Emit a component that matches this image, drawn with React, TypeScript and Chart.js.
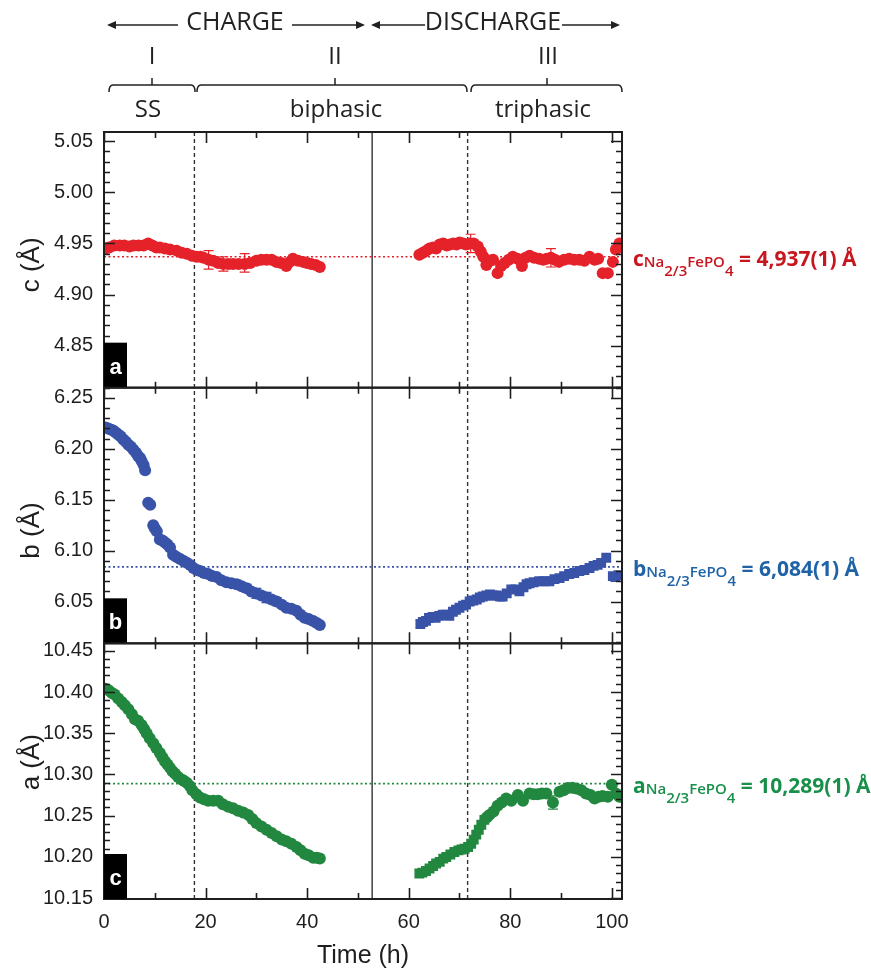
import React, { useEffect, useRef } from 'react';
import { Chart, registerables } from 'chart.js';

Chart.register(...registerables);

// ---------------- data ----------------
const timeTicks = [0, 20, 40, 60, 80, 100];
const cTicks = [4.85, 4.9, 4.95, 5.0, 5.05];
const bTicks = [6.05, 6.1, 6.15, 6.2, 6.25];
const aTicks = [10.15, 10.2, 10.25, 10.3, 10.35, 10.4, 10.45];

const boundaryTimes = [17.8, 71.6]; // dashed boundaries between regimes
const reversalTime = 52.8; // charge -> discharge
const refC = 4.937;
const refB = 6.084;
const refA = 10.289;

// c parameter (top panel)
const cT1 = [0.3, 1.0, 2.0, 3.1, 4.0, 5.0, 5.8, 6.8, 7.8, 8.7, 9.5, 10.3, 11.0, 12.0, 13.0, 14.3, 15.3, 16.3, 17.3, 18.2, 19.0, 19.6, 20.6, 21.5, 22.5, 23.5, 24.5, 25.4, 26.5, 27.7, 28.8, 30.0, 31.0, 32.0, 33.0, 33.9, 34.9, 35.9, 36.6, 37.2, 38.2, 39.2, 40.0, 40.8, 41.7, 42.5];
const cV1 = [4.945, 4.946, 4.948, 4.948, 4.948, 4.947, 4.948, 4.948, 4.948, 4.950, 4.948, 4.946, 4.946, 4.945, 4.944, 4.943, 4.941, 4.940, 4.938, 4.937, 4.937, 4.936, 4.934, 4.933, 4.931, 4.930, 4.930, 4.930, 4.930, 4.930, 4.931, 4.933, 4.934, 4.934, 4.934, 4.932, 4.931, 4.928, 4.932, 4.935, 4.933, 4.932, 4.931, 4.930, 4.929, 4.927];
const cT2 = [62.1, 62.8, 63.5, 64.1, 64.8, 65.4, 66.1, 66.8, 67.5, 68.1, 68.8, 69.4, 70.0, 70.7, 71.3, 72.0, 72.8, 73.6, 74.2, 74.7, 75.3, 76.0, 76.6, 77.5, 78.2, 78.9, 79.7, 80.5, 81.4, 82.3, 83.0, 83.8, 84.7, 85.7, 86.5, 87.2, 88.0, 88.8, 89.6, 90.6, 91.6, 92.6, 93.6, 94.6, 95.6, 96.6, 97.3, 98.2, 99.2, 100.2, 100.8, 101.5];
const cV2 = [4.939, 4.941, 4.943, 4.945, 4.946, 4.945, 4.949, 4.950, 4.948, 4.949, 4.950, 4.949, 4.951, 4.950, 4.949, 4.950, 4.950, 4.947, 4.942, 4.937, 4.929, 4.933, 4.934, 4.921, 4.928, 4.931, 4.934, 4.937, 4.935, 4.928, 4.936, 4.938, 4.936, 4.935, 4.934, 4.935, 4.936, 4.934, 4.932, 4.934, 4.935, 4.934, 4.934, 4.933, 4.937, 4.934, 4.935, 4.921, 4.921, 4.932, 4.944, 4.950];
const cErrT = [20.6, 23.5, 27.7, 72.2, 88.0];
const cErrV = [4.934, 4.930, 4.931, 4.950, 4.936];
const cErrE = [0.009, 0.007, 0.009, 0.009, 0.009];

// b parameter (middle panel)
const bT1 = [0.3, 0.8, 1.3, 1.8, 2.3, 2.8, 3.3, 3.8, 4.3, 4.8, 5.3, 5.8, 6.3, 6.7, 7.1, 7.4, 7.8, 8.1, 8.7, 9.1, 9.7, 10.0, 10.4, 11.0, 11.5, 12.0, 12.5, 13.0, 13.6, 14.2, 14.9, 15.6, 16.3, 17.0, 17.6, 18.3, 18.9, 19.7, 20.5, 21.3, 22.2, 23.1, 24.1, 25.1, 26.1, 27.1, 28.1, 29.0, 30.0, 31.0, 32.0, 33.0, 34.0, 35.0, 35.9, 36.9, 37.9, 38.7, 39.5, 40.3, 41.2, 41.9, 42.5];
const bV1 = [6.221, 6.220, 6.219, 6.218, 6.216, 6.214, 6.212, 6.209, 6.207, 6.204, 6.202, 6.199, 6.196, 6.193, 6.191, 6.188, 6.184, 6.179, 6.147, 6.145, 6.125, 6.122, 6.119, 6.111, 6.110, 6.108, 6.106, 6.103, 6.096, 6.094, 6.092, 6.090, 6.088, 6.086, 6.083, 6.081, 6.080, 6.078, 6.077, 6.075, 6.074, 6.071, 6.069, 6.068, 6.067, 6.065, 6.063, 6.060, 6.058, 6.056, 6.054, 6.052, 6.050, 6.047, 6.044, 6.043, 6.041, 6.037, 6.034, 6.033, 6.031, 6.029, 6.027];
const bT2 = [62.3, 62.8, 63.4, 64.0, 64.7, 65.3, 66.0, 66.7, 67.4, 68.0, 68.7, 69.3, 70.0, 70.7, 71.3, 72.0, 72.7, 73.4, 74.0, 74.6, 75.3, 76.0, 76.6, 77.3, 78.0, 78.5, 79.3, 80.2, 81.0, 81.8, 82.6, 83.2, 83.8, 84.6, 85.7, 86.7, 87.7, 88.7, 89.7, 90.6, 91.6, 92.6, 93.6, 94.6, 95.6, 96.4, 97.2, 97.9, 98.9, 100.2, 100.7, 101.3];
const bV2 = [6.028, 6.030, 6.031, 6.034, 6.035, 6.034, 6.036, 6.037, 6.037, 6.036, 6.040, 6.042, 6.044, 6.046, 6.047, 6.050, 6.051, 6.052, 6.054, 6.055, 6.056, 6.057, 6.056, 6.056, 6.055, 6.055, 6.058, 6.062, 6.062, 6.060, 6.064, 6.067, 6.068, 6.069, 6.070, 6.070, 6.070, 6.072, 6.073, 6.075, 6.077, 6.078, 6.080, 6.081, 6.083, 6.085, 6.086, 6.088, 6.093, 6.075, 6.074, 6.076];
const bErrT = [24.1, 26.1, 28.1, 30.0, 32.0, 34.0, 62.8, 64.0];
const bErrV = [6.069, 6.067, 6.063, 6.058, 6.054, 6.050, 6.030, 6.034];
const bErrE = [0.003, 0.004, 0.004, 0.005, 0.005, 0.004, 0.004, 0.004];

// a parameter (bottom panel)
const aT1 = [0.3, 0.9, 1.5, 2.1, 2.8, 3.5, 4.1, 4.8, 5.5, 6.1, 6.7, 7.4, 7.9, 8.4, 9.0, 9.7, 10.3, 11.0, 11.5, 12.0, 12.5, 13.0, 13.5, 14.0, 14.6, 15.3, 15.8, 16.3, 16.9, 17.4, 18.2, 18.9, 19.7, 20.5, 21.5, 22.5, 23.4, 24.4, 25.4, 26.4, 27.4, 28.4, 29.2, 30.0, 31.0, 32.0, 33.0, 34.0, 35.0, 35.9, 36.9, 37.9, 38.7, 39.5, 40.3, 41.2, 41.9, 42.5];
const aV1 = [10.404, 10.402, 10.399, 10.397, 10.392, 10.388, 10.384, 10.379, 10.373, 10.367, 10.365, 10.360, 10.355, 10.350, 10.344, 10.338, 10.332, 10.326, 10.321, 10.316, 10.312, 10.308, 10.304, 10.301, 10.297, 10.294, 10.292, 10.290, 10.286, 10.281, 10.276, 10.272, 10.270, 10.268, 10.268, 10.268, 10.264, 10.261, 10.259, 10.256, 10.254, 10.251, 10.246, 10.241, 10.237, 10.233, 10.229, 10.225, 10.221, 10.219, 10.216, 10.212, 10.208, 10.204, 10.202, 10.199, 10.199, 10.198];
const aT2 = [62.1, 62.7, 63.4, 64.1, 64.8, 65.4, 66.1, 66.8, 67.4, 68.2, 69.0, 69.8, 70.4, 71.0, 71.7, 72.3, 72.8, 73.3, 73.8, 74.3, 74.9];
const aV2 = [10.180, 10.181, 10.183, 10.186, 10.189, 10.192, 10.194, 10.198, 10.200, 10.203, 10.206, 10.208, 10.209, 10.210, 10.212, 10.216, 10.221, 10.227, 10.233, 10.239, 10.245];
const aT3 = [75.4, 75.9, 76.7, 77.5, 78.3, 79.2, 80.2, 81.5, 82.5, 83.8, 84.6, 85.4, 86.2, 87.1, 88.4, 89.7, 90.5, 91.3, 92.2, 93.0, 94.0, 94.9, 95.8, 96.6, 97.4, 98.2, 99.2, 100.0, 100.8, 101.5];
const aV3 = [10.248, 10.251, 10.255, 10.262, 10.266, 10.271, 10.268, 10.275, 10.268, 10.277, 10.276, 10.276, 10.277, 10.277, 10.266, 10.279, 10.281, 10.2835, 10.284, 10.283, 10.281, 10.277, 10.275, 10.271, 10.273, 10.274, 10.273, 10.2875, 10.277, 10.273];
const aErrT = [88.4];
const aErrV = [10.266];
const aErrE = [0.008];

// ---------------- styles ----------------
const RED = '#e5222a';
const BLUE = '#3953a8';
const GREEN = '#22873f';
const RED_TXT = '#c8161f';
const BLUE_TXT = '#1f63a6';
const GREEN_TXT = '#18904a';
const INK = '#1e1e1e';
const TICK_FONT = 'Liberation Sans, Arial, sans-serif';
const HEAD_FONT = '"Open Sans", "Noto Sans", sans-serif';

const pts = (ts: number[], vs: number[]) => ts.map((t, i) => ({ x: t, y: vs[i] }));

const panels = [
  { axis: 'yC', letter: 'a', title: 'c (Å)', titleDy: 5, ref: refC, color: RED, txt: RED_TXT, sym: 'c', val: '4,937(1)', errT: cErrT, errV: cErrV, errE: cErrE },
  { axis: 'yB', letter: 'b', title: 'b (Å)', titleDy: 15, ref: refB, color: BLUE, txt: BLUE_TXT, sym: 'b', val: '6,084(1)', errT: bErrT, errV: bErrV, errE: bErrE },
  { axis: 'yA', letter: 'c', title: 'a (Å)', titleDy: -9, ref: refA, color: GREEN, txt: GREEN_TXT, sym: 'a', val: '10,289(1)', errT: aErrT, errV: aErrV, errE: aErrE },
];

function arrowHead(ctx: CanvasRenderingContext2D, x: number, y: number, dir: number) {
  ctx.beginPath();
  ctx.moveTo(x, y);
  ctx.lineTo(x - dir * 9, y - 4);
  ctx.lineTo(x - dir * 9, y + 4);
  ctx.closePath();
  ctx.fill();
}

function brace(ctx: CanvasRenderingContext2D, x1: number, x2: number, xm: number, y: number) {
  ctx.beginPath();
  ctx.moveTo(x1, y + 7);
  ctx.quadraticCurveTo(x1, y, x1 + 4, y);
  ctx.lineTo(x2 - 4, y);
  ctx.quadraticCurveTo(x2, y, x2, y + 7);
  ctx.moveTo(xm, y);
  ctx.lineTo(xm, y - 7);
  ctx.stroke();
}

const figurePlugin = {
  id: 'figure',
  beforeDatasetsDraw(chart: any) {
    const ctx: CanvasRenderingContext2D = chart.ctx;
    const { left, right, top, bottom } = chart.chartArea;
    const xs = chart.scales.x;
    ctx.save();
    for (const p of panels) {
      const s = chart.scales[p.axis];
      const y = s.getPixelForValue(p.ref);
      ctx.strokeStyle = p.color;
      ctx.lineWidth = 1.7;
      ctx.setLineDash([2, 2.5]);
      ctx.beginPath();
      ctx.moveTo(left, y);
      ctx.lineTo(right, y);
      ctx.stroke();
    }
    ctx.strokeStyle = '#333';
    ctx.lineWidth = 1.4;
    ctx.setLineDash([4, 3]);
    for (const t of boundaryTimes) {
      const x = xs.getPixelForValue(t);
      ctx.beginPath();
      ctx.moveTo(x, top);
      ctx.lineTo(x, bottom);
      ctx.stroke();
    }
    ctx.setLineDash([]);
    const xr = xs.getPixelForValue(reversalTime);
    ctx.beginPath();
    ctx.moveTo(xr, top);
    ctx.lineTo(xr, bottom);
    ctx.stroke();
    ctx.restore();
  },
  afterDatasetsDraw(chart: any) {
    const ctx: CanvasRenderingContext2D = chart.ctx;
    const { left, right } = chart.chartArea;
    const xs = chart.scales.x;
    ctx.save();
    for (const p of panels) {
      const s = chart.scales[p.axis];
      ctx.strokeStyle = p.color;
      ctx.lineWidth = 1.2;
      p.errT.forEach((t: number, i: number) => {
        const x = xs.getPixelForValue(t);
        const y1 = s.getPixelForValue(p.errV[i] + p.errE[i]);
        const y2 = s.getPixelForValue(p.errV[i] - p.errE[i]);
        ctx.beginPath();
        ctx.moveTo(x, y1); ctx.lineTo(x, y2);
        ctx.moveTo(x - 5, y1); ctx.lineTo(x + 5, y1);
        ctx.moveTo(x - 5, y2); ctx.lineTo(x + 5, y2);
        ctx.stroke();
      });
      const top = s.top;
      const bottom = s.bottom;
      ctx.strokeStyle = INK;
      ctx.lineWidth = 1.6;
      ctx.beginPath();
      for (let t = 0; t <= 100; t += 10) {
        const x = Math.round(xs.getPixelForValue(t)) + 0.5;
        const len = t % 20 === 0 ? 11 : 6;
        ctx.moveTo(x, top); ctx.lineTo(x, top + len);
        ctx.moveTo(x, bottom); ctx.lineTo(x, bottom - len);
      }
      const k0 = Math.ceil(s.min * 100 - 1e-6);
      const k1 = Math.floor(s.max * 100 + 1e-6);
      for (let k = k0; k <= k1; k++) {
        const y = Math.round(s.getPixelForValue(k / 100)) + 0.5;
        const len = k % 5 === 0 ? 11 : 6;
        ctx.moveTo(left, y); ctx.lineTo(left + len, y);
        ctx.moveTo(right, y); ctx.lineTo(right - len, y);
      }
      ctx.stroke();
      ctx.lineWidth = 2;
      ctx.strokeRect(left, top, right - left, bottom - top);
      ctx.fillStyle = '#000';
      ctx.fillRect(left, bottom - 45, 23, 45);
      ctx.fillStyle = '#fff';
      ctx.font = `bold 22px ${TICK_FONT}`;
      ctx.textAlign = 'center';
      ctx.textBaseline = 'middle';
      ctx.fillText(p.letter, left + 11.5, bottom - 20);
    }
    ctx.restore();
  },
  afterDraw(chart: any) {
    const ctx: CanvasRenderingContext2D = chart.ctx;
    ctx.save();
    for (const p of panels) {
      const s = chart.scales[p.axis];
      ctx.save();
      ctx.translate(32, (s.top + s.bottom) / 2 + p.titleDy);
      ctx.rotate(-Math.PI / 2);
      ctx.fillStyle = INK;
      ctx.font = `26px ${TICK_FONT}`;
      ctx.textAlign = 'center';
      ctx.textBaseline = 'middle';
      ctx.fillText(p.title, 0, 0);
      ctx.restore();
    }
    for (const p of panels) {
      const s = chart.scales[p.axis];
      const base = s.getPixelForValue(p.ref) + 9.5;
      const parts = [
        { t: p.sym, size: 21, dy: 0 },
        { t: 'Na', size: 15, dy: 1 },
        { t: '2/3', size: 15, dy: 10 },
        { t: 'FePO', size: 15, dy: 1 },
        { t: '4', size: 15, dy: 10 },
        { t: ' = ' + p.val + ' Å', size: 21, dy: 0 },
      ];
      let x = 633;
      ctx.fillStyle = p.txt;
      ctx.textAlign = 'left';
      ctx.textBaseline = 'alphabetic';
      for (const part of parts) {
        ctx.font = `${part.size > 18 ? 'bold' : '600'} ${part.size}px ${HEAD_FONT}`;
        ctx.fillText(part.t, x, base + part.dy);
        x += ctx.measureText(part.t).width;
      }
    }
    ctx.fillStyle = '#222';
    ctx.strokeStyle = '#222';
    ctx.lineWidth = 1.5;
    ctx.font = `25px ${HEAD_FONT}`;
    ctx.textAlign = 'center';
    ctx.textBaseline = 'middle';
    ctx.fillText('CHARGE', 235, 23);
    ctx.fillText('DISCHARGE', 493, 23);
    ctx.beginPath();
    ctx.moveTo(110, 25); ctx.lineTo(178, 25);
    ctx.moveTo(292, 25); ctx.lineTo(360, 25);
    ctx.moveTo(375, 25); ctx.lineTo(425, 25);
    ctx.moveTo(562, 25); ctx.lineTo(615, 25);
    ctx.stroke();
    arrowHead(ctx, 107, 25, -1);
    arrowHead(ctx, 365, 25, 1);
    arrowHead(ctx, 371, 25, -1);
    arrowHead(ctx, 620, 25, 1);
    ctx.font = `24px ${HEAD_FONT}`;
    ctx.fillText('I', 152, 57);
    ctx.fillText('II', 335, 57);
    ctx.fillText('III', 548, 57);
    brace(ctx, 109, 195, 152, 85);
    brace(ctx, 197, 467, 335, 85);
    brace(ctx, 471, 622, 547, 85);
    ctx.textBaseline = 'alphabetic';
    ctx.fillText('SS', 148, 117);
    ctx.fillText('biphasic', 336, 117);
    ctx.fillText('triphasic', 543, 117);
    ctx.restore();
  },
};

const yScale = (min: number, max: number, ticks: number[]) => ({
  type: 'linear',
  position: 'left',
  stack: 'panels',
  stackWeight: 1,
  min,
  max,
  grid: { display: false, drawTicks: false },
  border: { display: false },
  ticks: {
    font: { family: TICK_FONT, size: 20 },
    color: INK,
    padding: 11,
    autoSkip: false,
    callback: (v: number) => Number(v).toFixed(2),
  },
  afterBuildTicks: (s: any) => {
    s.ticks = ticks.map((v) => ({ value: v }));
  },
  afterFit: (s: any) => {
    s.width = 104;
  },
});

export default function App() {
  const ref = useRef<HTMLCanvasElement>(null);
  useEffect(() => {
    const dot = (data: any, axis: string, color: string, style: string, r: number) => ({
      data,
      yAxisID: axis,
      backgroundColor: color,
      borderColor: color,
      borderWidth: 0,
      pointRadius: r,
      pointStyle: style,
      showLine: false,
    });
    const chart = new Chart(ref.current as HTMLCanvasElement, {
      type: 'scatter',
      data: {
        datasets: [
          dot(pts(cT1, cV1), 'yC', RED, 'circle', 6),
          dot(pts(cT2, cV2), 'yC', RED, 'circle', 6),
          dot(pts(bT1, bV1), 'yB', BLUE, 'circle', 6),
          dot(pts(bT2, bV2), 'yB', BLUE, 'rect', 7),
          dot(pts(aT1, aV1), 'yA', GREEN, 'circle', 6),
          dot(pts(aT2, aV2), 'yA', GREEN, 'rect', 7),
          dot(pts(aT3, aV3), 'yA', GREEN, 'circle', 6),
        ] as any,
      },
      options: {
        responsive: false,
        animation: false,
        events: [],
        layout: { padding: { top: 132, right: 249, bottom: 0, left: 0 } },
        plugins: { legend: { display: false }, tooltip: { enabled: false } },
        scales: {
          x: {
            type: 'linear',
            position: 'bottom',
            min: 0,
            max: 102,
            grid: { display: false, drawTicks: false },
            border: { display: false },
            ticks: {
              font: { family: TICK_FONT, size: 20 },
              color: INK,
              padding: 11,
              autoSkip: false,
              maxRotation: 0,
              callback: (v: any) => String(v),
            },
            afterBuildTicks: (s: any) => {
              s.ticks = timeTicks.map((v) => ({ value: v }));
            },
            afterFit: (s: any) => {
              s.height = 70;
            },
            title: {
              display: true,
              text: 'Time (h)',
              color: INK,
              font: { family: TICK_FONT, size: 25, lineHeight: 1 },
              padding: { top: 0, bottom: 0 },
            },
          },
          yA: yScale(10.149, 10.459, aTicks),
          yB: yScale(6.009, 6.26, bTicks),
          yC: yScale(4.809, 5.059, cTicks),
        } as any,
      },
      plugins: [figurePlugin],
    } as any);
    return () => chart.destroy();
  }, []);
  return (
    <div style={{ position: 'absolute', left: 0, top: 0, width: 871, height: 969, background: '#fff' }}>
      <canvas ref={ref} width={871} height={969} style={{ display: 'block' }} />
    </div>
  );
}
